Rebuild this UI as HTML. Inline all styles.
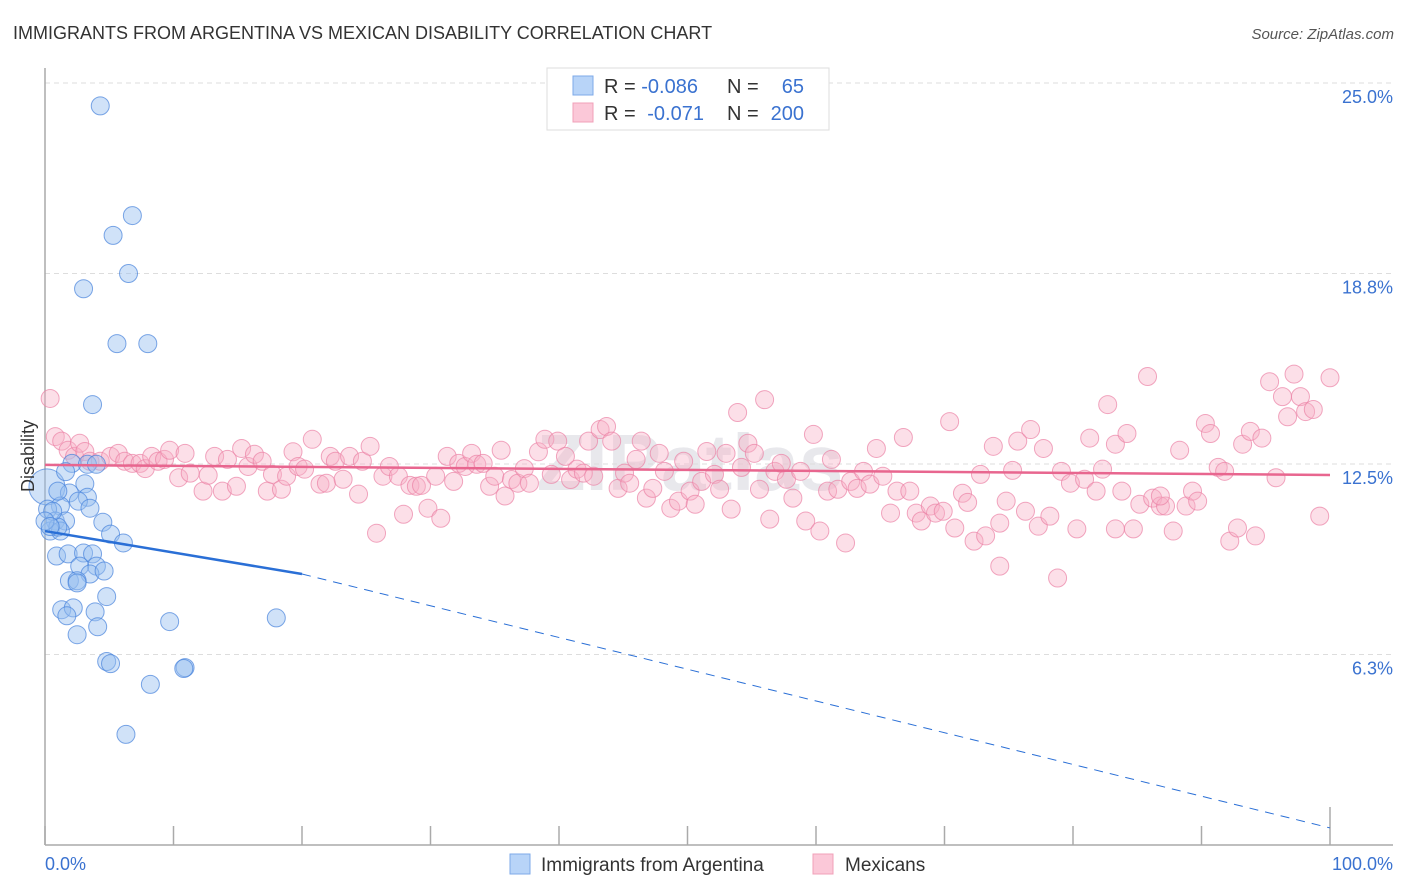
<!DOCTYPE html>
<html><head><meta charset="utf-8"><style>
body{margin:0;background:#fff;font-family:"Liberation Sans",sans-serif}
</style></head><body>
<svg id="chart" width="1406" height="892" xmlns="http://www.w3.org/2000/svg" style="display:block">
<text x="13" y="39" font-size="18" fill="#333">IMMIGRANTS FROM ARGENTINA VS MEXICAN DISABILITY CORRELATION CHART</text>
<text x="1394" y="39" font-size="15" fill="#555" font-style="italic" text-anchor="end">Source: ZipAtlas.com</text>
<text x="690" y="490" font-size="80" fill="#e8e8ec" text-anchor="middle" font-weight="bold">ZIPatlas</text>
<g id="grid"></g>
<g id="axes"></g>
<g id="pinkPts"></g>
<g id="bluePts"></g>
<g id="trends"></g>
<text transform="translate(34,456) rotate(-90)" font-size="18" fill="#333" text-anchor="middle">Disability</text>
<g>
<rect x="547" y="68" width="282" height="62" fill="#fff" stroke="#ddd"/>
<rect x="573" y="76" width="20" height="19" fill="#b8d4f8" stroke="#7eaae8"/>
<rect x="573" y="103" width="20" height="19" fill="#fbc8d8" stroke="#f0a0b8"/>
<text x="604" y="93" font-size="20" fill="#333">R = <tspan fill="#3a72d0">-0.086</tspan></text>
<text x="727" y="93" font-size="20" fill="#333">N = </text><text x="804" y="93" font-size="20" fill="#3a72d0" text-anchor="end">65</text>
<text x="604" y="120" font-size="20" fill="#333">R = <tspan fill="#3a72d0" dx="6">-0.071</tspan></text>
<text x="727" y="120" font-size="20" fill="#333">N = </text><text x="804" y="120" font-size="20" fill="#3a72d0" text-anchor="end">200</text>
</g>
<g>
<rect x="510" y="854" width="20" height="20" fill="#b8d4f8" stroke="#7eaae8"/>
<text x="541" y="871" font-size="19" fill="#333">Immigrants from Argentina</text>
<rect x="813" y="854" width="20" height="20" fill="#fbc8d8" stroke="#f0a0b8"/>
<text x="845" y="871" font-size="19" fill="#333">Mexicans</text>
</g>
</svg>
<script>
const yTicks=[25,18.75,12.5,6.25];
const yTickLabels=["25.0%","18.8%","12.5%","6.3%"];
const xTicks=[0,10,20,30,40,50,60,70,80,90,100];
const xEndLabels=["0.0%","100.0%"];
const blueX=[4.3,6.8,5.3,6.5,3.0,5.6,8.0,3.7,0.15,2.1,3.3,4.0,1.9,3.1,3.3,2.6,1.2,3.5,0.2,0.8,1.6,0.4,1.2,1.0,4.5,5.1,6.1,0.9,1.8,3.0,3.7,4.0,2.7,3.5,1.9,2.5,4.6,2.5,4.8,1.3,2.2,1.7,3.9,4.1,2.5,9.7,18.0,4.8,5.1,10.9,10.8,8.2,6.3,0.6,0,0.4,1.0,1.6];
const blueY=[24.25,20.65,20.0,18.75,18.25,16.45,16.45,14.45,11.75,12.52,12.49,12.49,11.55,11.85,11.41,11.28,11.12,11.05,11.02,10.63,10.63,10.3,10.3,10.43,10.59,10.2,9.91,9.48,9.55,9.58,9.55,9.15,9.15,8.89,8.67,8.67,8.99,8.6,8.15,7.72,7.78,7.52,7.65,7.16,6.9,7.33,7.45,6.02,5.95,5.82,5.79,5.27,3.63,10.95,10.63,10.45,11.61,12.25];
const blueBig=[8];
const pinkX=[0.4,0.8,1.3,1.8,2.3,2.7,3.1,3.5,4.3,5.1,5.7,6.2,6.8,7.4,7.8,8.3,8.8,9.3,9.7,10.4,10.9,11.3,12.3,12.7,13.2,13.8,14.2,14.9,15.3,15.8,16.3,16.9,17.3,17.7,18.4,18.8,19.3,19.7,20.2,20.8,21.4,21.9,22.2,22.6,23.2,23.7,24.4,24.7,25.3,25.8,26.3,26.8,27.5,27.9,28.4,28.9,29.3,29.8,30.4,30.8,31.3,31.8,32.2,32.7,33.2,33.6,34.1,34.6,35.0,35.5,35.8,36.3,36.8,37.3,37.7,38.4,38.9,39.4,39.9,40.5,40.9,41.4,41.9,42.3,42.7,43.2,43.7,44.1,44.6,45.1,45.5,46.0,46.4,46.8,47.3,47.8,48.2,48.7,49.3,49.7,50.2,50.6,51.1,51.5,52.1,52.5,53.0,53.4,53.9,54.2,54.7,55.2,55.6,56.0,56.4,56.8,57.3,57.7,58.2,58.8,59.2,59.8,60.3,60.9,61.2,61.7,62.3,62.7,63.2,63.7,64.2,64.7,65.2,65.8,66.3,66.8,67.3,67.8,68.2,68.9,69.3,69.9,70.4,70.8,71.4,71.8,72.3,72.8,73.2,73.8,74.3,74.8,75.3,75.7,76.3,76.7,77.3,77.7,78.2,78.8,79.1,79.8,80.3,80.9,81.3,81.8,82.3,82.7,83.3,83.8,84.2,84.7,85.2,85.8,86.2,86.8,87.2,87.8,88.3,88.8,89.3,89.7,90.3,90.7,91.3,91.8,92.2,92.8,93.2,93.8,94.2,94.7,95.3,95.8,96.3,96.7,97.2,97.7,98.1,98.7,99.2,100,74.3,86.8,83.3];
const pinkY=[14.65,13.4,13.25,12.95,12.75,13.18,12.91,12.59,12.59,12.75,12.85,12.59,12.52,12.52,12.35,12.75,12.59,12.65,12.95,12.05,12.85,12.2,11.61,12.13,12.75,11.61,12.65,11.77,13.01,12.42,12.82,12.59,11.61,12.16,11.67,12.1,12.9,12.42,12.33,13.31,11.84,11.87,12.75,12.59,12.0,12.75,11.51,12.59,13.08,10.23,12.1,12.42,12.1,10.85,11.8,11.77,11.8,11.05,12.1,10.72,12.75,11.93,12.52,12.42,12.85,12.49,12.52,11.77,12.1,12.95,11.45,11.99,11.87,12.35,11.87,12.9,13.31,12.16,13.25,12.75,11.99,12.33,12.2,13.25,12.1,13.63,13.73,13.25,11.7,12.2,11.87,12.65,13.25,11.38,11.7,12.85,12.26,11.05,11.28,12.59,11.61,11.18,11.93,12.91,12.16,11.67,12.85,11.02,14.19,12.39,13.18,12.85,11.67,14.61,10.69,12.26,12.52,12.0,11.38,12.26,10.63,13.47,10.3,11.61,12.65,11.67,9.91,11.93,11.7,12.26,11.84,13.01,12.1,10.89,11.61,13.37,11.61,10.89,10.63,11.12,10.89,10.95,13.89,10.4,11.54,11.24,9.97,12.16,10.14,13.08,10.56,11.28,12.29,13.25,10.95,13.63,10.46,13.01,10.79,8.76,12.26,11.87,10.37,12.0,13.35,11.61,12.33,14.45,13.15,11.61,13.5,10.37,11.18,15.37,11.38,11.12,11.12,10.3,12.95,11.12,11.61,11.28,13.83,13.5,12.39,12.26,9.97,10.4,13.15,13.57,10.14,13.35,15.2,12.05,14.71,14.05,15.45,14.71,14.22,14.29,10.79,15.33,9.15,11.45,10.37];
const blueTrend={x:[0,20,100],y:[10.3,8.89,0.56]};
const pinkTrend={x:[0,100],y:[12.47,12.14]};
const NS='http://www.w3.org/2000/svg';
const X0=45,X1=1330,YB=845,YT=83;
function xs(v){return X0+(X1-X0)*v/100;}
function ys(v){return YB-(YB-YT)*v/25;}
function mk(tag,attrs,parent){const e=document.createElementNS(NS,tag);for(const k in attrs)e.setAttribute(k,attrs[k]);parent.appendChild(e);return e;}
const grid=document.getElementById('grid'),axes=document.getElementById('axes');
yTicks.forEach((t,i)=>{
 const l=mk('line',{x1:X0,x2:1393,y1:ys(t),y2:ys(t),stroke:'#ddd','stroke-dasharray':'5,4'},grid);
 
 
 const tx=mk('text',{x:1393,y:ys(t)+20,'font-size':18,fill:'#3a72d0','text-anchor':'end'},axes);
 tx.textContent=yTickLabels[i];
 
 
});
const al=mk('line',{x1:X0,x2:X0,y1:68,y2:YB,stroke:'#aaa','stroke-width':1.5},axes);


const bl=mk('line',{x1:X0,x2:1393,y1:YB,y2:YB,stroke:'#aaa','stroke-width':1.5},axes);


xTicks.forEach((t,i)=>{
 const tk=mk('line',{x1:xs(t),x2:xs(t),y1:(i===xTicks.length-1?807:826),y2:YB,stroke:'#aaa','stroke-width':1.5},axes);
 
 
});
const l0=mk('text',{x:45,y:870,'font-size':18,fill:'#3a72d0'},axes);l0.textContent=xEndLabels[0];


const l1=mk('text',{x:1393,y:870,'font-size':18,fill:'#3a72d0','text-anchor':'end'},axes);l1.textContent=xEndLabels[1];


const pg=document.getElementById('pinkPts');
pinkX.forEach((x,i)=>{
 const c=mk('circle',{cx:xs(x),cy:ys(pinkY[i]),r:9,fill:'rgba(248,175,198,0.4)',stroke:'rgba(235,130,165,0.7)','stroke-width':1},pg);
 
 
});
const bg=document.getElementById('bluePts');
blueX.forEach((x,i)=>{
 const c=mk('circle',{cx:xs(x),cy:ys(blueY[i]),r:blueBig.includes(i)?18:9,fill:'rgba(150,190,240,0.45)',stroke:'rgba(70,130,220,0.7)','stroke-width':1},bg);
 
 
});
const tg=document.getElementById('trends');
const bs=mk('line',{x1:xs(blueTrend.x[0]),y1:ys(blueTrend.y[0]),x2:xs(blueTrend.x[1]),y2:ys(blueTrend.y[1]),stroke:'#2a6fd6','stroke-width':2.5},tg);


const bd=mk('line',{x1:xs(blueTrend.x[1]),y1:ys(blueTrend.y[1]),x2:xs(blueTrend.x[2]),y2:ys(blueTrend.y[2]),stroke:'#2a6fd6','stroke-width':1,'stroke-dasharray':'9,7'},tg);


const pt=mk('line',{x1:xs(pinkTrend.x[0]),y1:ys(pinkTrend.y[0]),x2:xs(pinkTrend.x[1]),y2:ys(pinkTrend.y[1]),stroke:'#e8668f','stroke-width':2.5},tg);


</script>
</body></html>
